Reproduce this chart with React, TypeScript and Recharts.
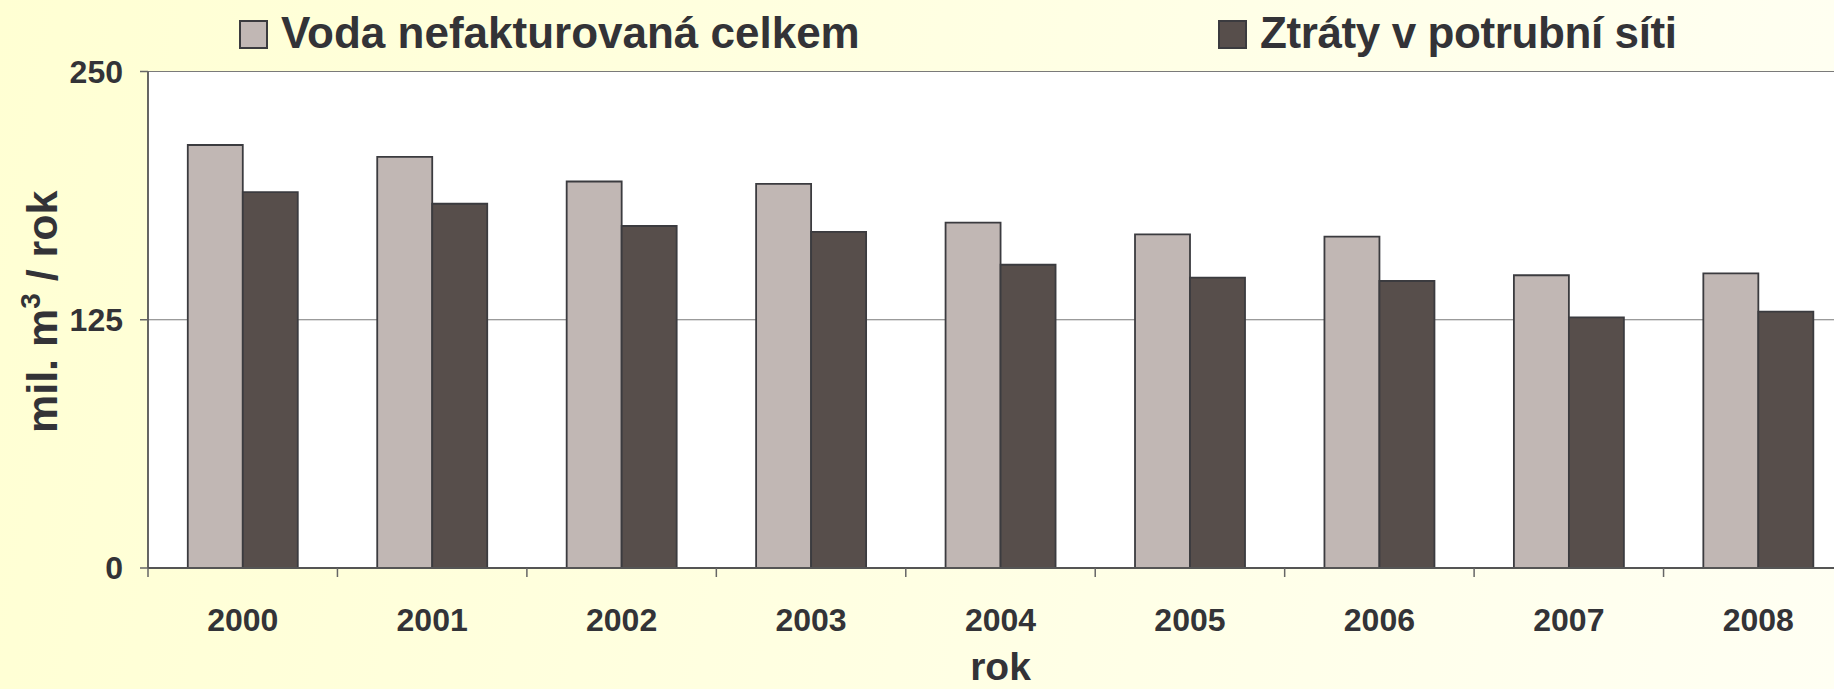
import { Bar, BarChart, CartesianGrid, Legend, XAxis, YAxis } from "recharts";

const years = ["2000", "2001", "2002", "2003", "2004", "2005", "2006", "2007", "2008"];
const unbilledTotal = [213, 207, 194.6, 193.4, 173.9, 168, 166.9, 147.4, 148.4];
const networkLosses = [189.3, 183.4, 172.2, 169.2, 152.7, 146.2, 144.5, 126.2, 129.1];
const yTicks = [0, 125, 250];
const seriesNames = ["Voda nefakturovaná celkem", "Ztráty v potrubní síti"];

const FONT = '"Liberation Sans", Arial, Helvetica, sans-serif';
const TEXT = "#333337";
const LIGHT = "#c1b7b4";
const DARK = "#574e4b";
const EDGE = "#3b3b3f";

const data = years.map((y, i) => ({
  year: y,
  total: unbilledTotal[i],
  losses: networkLosses[i],
}));

// x positions of the two legend entries
const legendX = [240, 1219];

function TopLegend(props: any) {
  const items = props.payload || [];
  return (
    <svg width={1834} height={71} style={{ display: "block" }}>
      {items.map((it: any, i: number) => (
        <g key={it.value}>
          <rect
            x={legendX[i]}
            y={21}
            width={27}
            height={27}
            fill={it.color}
            stroke={EDGE}
            strokeWidth={2}
          />
          <text
            x={legendX[i] + 41}
            y={48}
            fontFamily={FONT}
            fontWeight={700}
            fontSize={44}
            letterSpacing={i === 1 ? -0.4 : 0}
            fill={TEXT}
          >
            {it.value}
          </text>
        </g>
      ))}
    </svg>
  );
}

// Excel-style: tick marks sit between categories, label in the middle
function YearTick(props: any) {
  const { x, y, payload } = props;
  const half = payload.offset ?? 0;
  return (
    <g>
      <line x1={x - half} x2={x - half} y1={y} y2={y + 9} stroke="#666" strokeWidth={1.5} />
      <text
        x={x}
        y={y + 63}
        textAnchor="middle"
        fontFamily={FONT}
        fontWeight={700}
        fontSize={32}
        fill={TEXT}
      >
        {payload.value}
      </text>
    </g>
  );
}

function YTitle(props: any) {
  const vb = props.viewBox || { x: 0, y: 0, height: 0 };
  const cx = vb.x + 57;
  const cy = vb.y + vb.height / 2 - 8;
  return (
    <text
      x={cx}
      y={cy}
      transform={`rotate(-90 ${cx} ${cy})`}
      textAnchor="middle"
      fontFamily={FONT}
      fontWeight={700}
      fontSize={43}
      fill={TEXT}
    >
      mil. m
      <tspan dy={-17} fontSize={28}>
        3
      </tspan>
      <tspan dy={17}> / rok</tspan>
    </text>
  );
}

export default function App() {
  return (
    <div
      style={{
        position: "absolute",
        left: 0,
        top: 0,
        width: 1834,
        height: 689,
        overflow: "hidden",
        background: "linear-gradient(100deg, #ffffd3 0%, #ffffe4 55%, #fffff3 100%)",
      }}
    >
      <BarChart
        width={1860}
        height={689}
        data={data}
        margin={{ top: 0.5, right: 7, left: 0, bottom: 0 }}
        barCategoryGap="21%"
        barGap={0}
      >
        <CartesianGrid
          vertical={false}
          horizontalValues={yTicks}
          stroke="#7a7a7a"
          strokeWidth={1.2}
          fill="#ffffff"
        />
        <Legend
          verticalAlign="top"
          content={TopLegend}
          wrapperStyle={{ top: 0, left: 0, width: 1834, height: 71 }}
        />
        <XAxis
          dataKey="year"
          height={121}
          tickSize={0}
          tickMargin={0}
          tickLine={false}
          axisLine={{ stroke: "#555", strokeWidth: 1.8 }}
          tick={YearTick}
          interval={0}
          label={{
            value: "rok",
            position: "insideBottom",
            offset: 9,
            fill: TEXT,
            fontSize: 39,
            fontWeight: 700,
            fontFamily: FONT,
          }}
        />
        <YAxis
          width={148}
          domain={[0, 250]}
          ticks={yTicks}
          interval={0}
          tickSize={8}
          tickMargin={17}
          axisLine={{ stroke: "#555", strokeWidth: 1.8 }}
          tickLine={{ stroke: "#666", strokeWidth: 1.5 }}
          tick={{ fill: TEXT, fontSize: 32, fontWeight: 700, fontFamily: FONT }}
          label={{ content: YTitle }}
        />
        <Bar
          dataKey="total"
          name={seriesNames[0]}
          fill={LIGHT}
          stroke={EDGE}
          strokeWidth={1.8}
          isAnimationActive={false}
        />
        <Bar
          dataKey="losses"
          name={seriesNames[1]}
          fill={DARK}
          stroke={EDGE}
          strokeWidth={1.8}
          isAnimationActive={false}
        />
      </BarChart>
    </div>
  );
}
